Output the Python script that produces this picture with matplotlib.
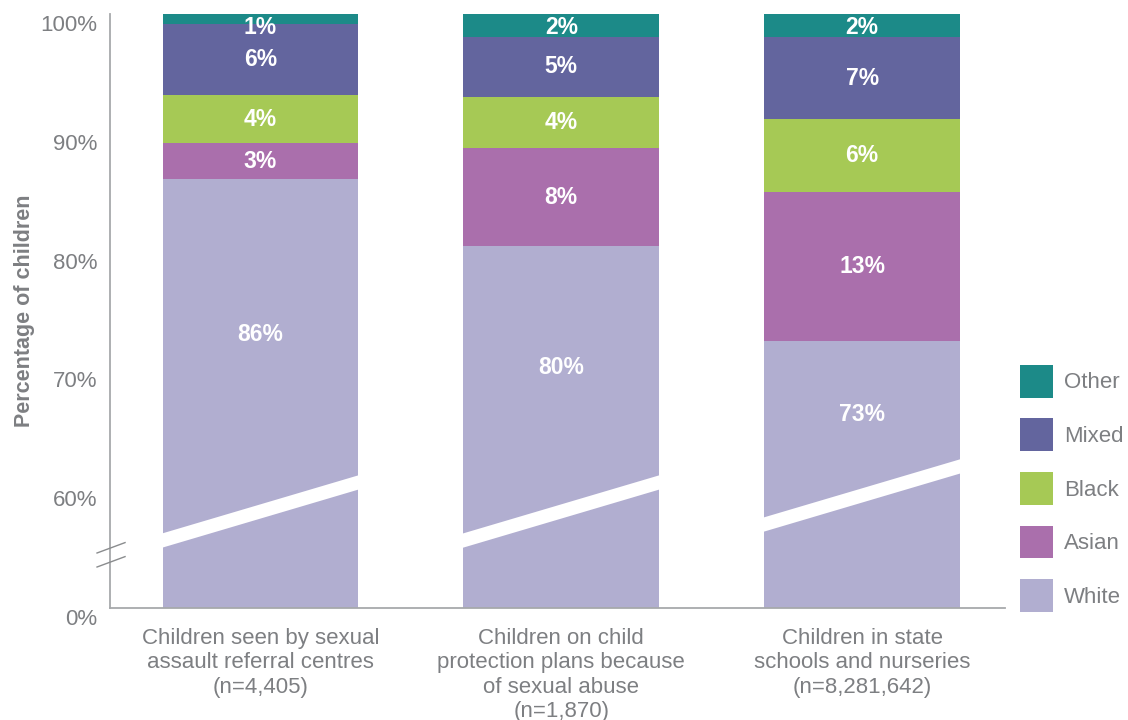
import numpy as np
import matplotlib
matplotlib.use("Agg")
import matplotlib.pyplot as plt
from matplotlib.patches import Patch, Polygon
from matplotlib.transforms import ScaledTranslation, blended_transform_factory

plt.rcParams['font.family'] = ['Liberation Sans', 'DejaVu Sans']

groups = ["Children seen by sexual\nassault referral centres\n(n=4,405)",
          "Children on child\nprotection plans because\nof sexual abuse\n(n=1,870)",
          "Children in state\nschools and nurseries\n(n=8,281,642)"]
ethnicities = ["White", "Asian", "Black", "Mixed", "Other"]
white = [86.1, 80.49, 72.51]
asian = [3.0, 8.2, 12.51]
black = [4.1, 4.3, 6.1]
mixed = [6.0, 5.1, 6.98]
other = [0.8, 1.9, 1.9]
yticks = [0, 60, 70, 80, 90, 100]

colors = {"White": "#b1aed0", "Asian": "#aa6fac", "Black": "#a6c955",
          "Mixed": "#63659e", "Other": "#1c8a88"}
text_grey = "#7d7f82"
axis_grey = "#a7a9ab"


# broken axis: 0-60 squeezed into the height of one 10% step
def fwd(v):
    v = np.asarray(v, dtype=float)
    return np.where(v >= 60, v - 50, v / 6)


def inv(t):
    t = np.asarray(t, dtype=float)
    return np.where(t >= 10, t + 50, t * 6)


fig = plt.figure(figsize=(11.28, 7.2), dpi=100)
ax = fig.add_axes([110 / 1128, 112 / 720, 895 / 1128, 594 / 720])
ax.set_yscale('function', functions=(fwd, inv))

x = np.arange(len(groups))
width = 0.65
series = {"White": white, "Asian": asian, "Black": black, "Mixed": mixed, "Other": other}
bottom = np.zeros(len(groups))
for name in ethnicities:
    vals = np.array(series[name])
    ax.bar(x, vals, width, bottom=bottom, color=colors[name], linewidth=0, zorder=2)
    for i, v in enumerate(vals):
        lo = fwd(60) if name == "White" else fwd(bottom[i])
        tc = min((lo + fwd(bottom[i] + v)) / 2, fwd(100) - 1.1)
        ax.text(x[i], float(inv(tc)), f"{v:.0f}%", ha='center', va='center', color='white',
                fontsize=16.5, fontweight='bold', zorder=4)
    bottom += vals

# white slanted break through each bar
band = blended_transform_factory(ax.transData, ax.transAxes)
band_base = [0.101, 0.101, 0.128]
rise, thick = 0.099, 0.024
for i, b in enumerate(band_base):
    xl, xr = x[i] - width / 2 - 0.005, x[i] + width / 2 + 0.005
    ax.add_patch(Polygon([(xl, b), (xr, b + rise), (xr, b + rise + thick), (xl, b + thick)],
                         closed=True, facecolor='white', edgecolor='none',
                         transform=band, zorder=3))

ax.set_ylim(0, 100)
ax.set_xlim(-0.5, 2.475)
ax.set_yticks(yticks)
ax.set_yticklabels([f"{t}%" for t in yticks])
ax.set_xticks(x)
ax.set_xticklabels(groups, linespacing=1.2)
ax.tick_params(axis='y', length=0, pad=9, labelsize=16, labelcolor=text_grey)
ax.tick_params(axis='x', length=0, pad=14.5, labelsize=16, labelcolor=text_grey)
for lbl in ax.get_yticklabels():
    lbl.set_transform(lbl.get_transform() + ScaledTranslation(0, -9 / 100, fig.dpi_scale_trans))

for s in ['top', 'right']:
    ax.spines[s].set_visible(False)
for s in ['left', 'bottom']:
    ax.spines[s].set_color(axis_grey)
    ax.spines[s].set_linewidth(1.3)

# break marks on the y axis
for y0 in [0.0926, 0.069]:
    ax.plot([-0.0145, 0.0168], [y0, y0 + 0.0175], color='#8a8c8e', lw=1.0,
            transform=ax.transAxes, clip_on=False, zorder=5)

ax.set_ylabel("Percentage of children", fontsize=15.5, fontweight='bold', color=text_grey)
ax.yaxis.set_label_coords(-0.084, 0.5)

handles = [Patch(facecolor=colors[n], edgecolor='none', label=n) for n in reversed(ethnicities)]
leg = fig.legend(handles=handles, loc='upper left', bbox_to_anchor=(1011 / 1128, 1 - 356 / 720),
                 frameon=False, fontsize=16, handlelength=1.5, handleheight=1.9,
                 labelspacing=0.93, handletextpad=0.5, borderaxespad=0)
for t in leg.get_texts():
    t.set_color(text_grey)

fig.savefig("out.png", dpi=100)
